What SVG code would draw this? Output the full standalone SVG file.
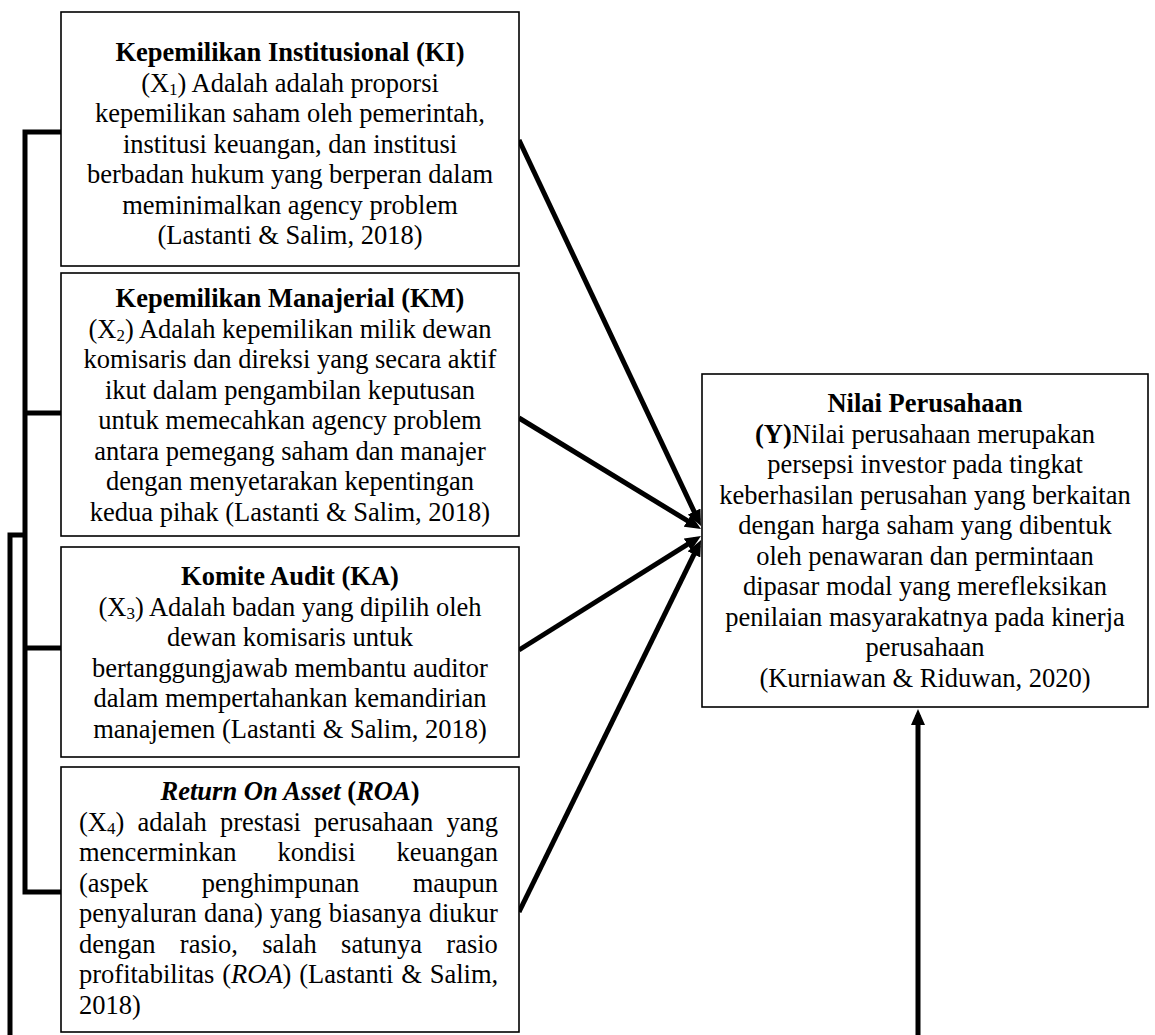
<svg xmlns="http://www.w3.org/2000/svg" width="1155" height="1035" viewBox="0 0 1155 1035">
<style>
.t{font-family:"Liberation Serif","Times New Roman",serif;font-size:26.5px;fill:#000}
.c{text-anchor:middle}
.b{font-weight:bold}
.s{font-size:17px}
.box{fill:#fff;stroke:#000;stroke-width:1.6}
.ln{fill:none;stroke:#000;stroke-width:5}
</style>
<defs>
<marker id="ah" markerUnits="userSpaceOnUse" markerWidth="16" markerHeight="14" refX="10" refY="7" orient="auto"><path d="M0,0 L16,7 L0,14 z" fill="#000"/></marker>
</defs>
<rect width="1155" height="1035" fill="#fff"/>
<g id="connectors">
<path class="ln" d="M61 132 H25 V892 H61 M25 413 H61 M25 648 H61"/>
<path class="ln" d="M27 535 H10 V1035"/>
<line class="ln" x1="519" y1="140" x2="698.4" y2="520.6" marker-end="url(#ah)"/>
<line class="ln" x1="519" y1="418" x2="695.9" y2="525.9" marker-end="url(#ah)"/>
<line class="ln" x1="519" y1="650" x2="695.9" y2="539.2" marker-end="url(#ah)"/>
<line class="ln" x1="519" y1="912" x2="698.4" y2="545.4" marker-end="url(#ah)"/>
<line class="ln" x1="918" y1="1035" x2="918" y2="715" marker-end="url(#ah)"/>
</g>
<g id="ki">
<rect class="box" x="61" y="12" width="458" height="254"/>
<text class="t c b" x="290" y="61">Kepemilikan Institusional (KI)</text>
<text class="t c" x="290" y="91.5">(X<tspan class="s" dy="3">1</tspan><tspan dy="-3">) Adalah adalah proporsi</tspan></text>
<text class="t c" x="290" y="122">kepemilikan saham oleh pemerintah,</text>
<text class="t c" x="290" y="152.5">institusi keuangan, dan institusi</text>
<text class="t c" x="290" y="183">berbadan hukum yang berperan dalam</text>
<text class="t c" x="290" y="213.5">meminimalkan agency problem</text>
<text class="t c" x="290" y="244">(Lastanti &amp; Salim, 2018)</text>
</g>
<g id="km">
<rect class="box" x="61" y="273" width="458" height="263"/>
<text class="t c b" x="290" y="307">Kepemilikan Manajerial (KM)</text>
<text class="t c" x="290" y="337.5">(X<tspan class="s" dy="3">2</tspan><tspan dy="-3">) Adalah kepemilikan milik dewan</tspan></text>
<text class="t c" x="290" y="368">komisaris dan direksi yang secara aktif</text>
<text class="t c" x="290" y="398.5">ikut dalam pengambilan keputusan</text>
<text class="t c" x="290" y="429">untuk memecahkan agency problem</text>
<text class="t c" x="290" y="459.5">antara pemegang saham dan manajer</text>
<text class="t c" x="290" y="490">dengan menyetarakan kepentingan</text>
<text class="t c" x="290" y="520.5">kedua pihak (Lastanti &amp; Salim, 2018)</text>
</g>
<g id="ka">
<rect class="box" x="61" y="547" width="458" height="210"/>
<text class="t c b" x="290" y="585">Komite Audit (KA)</text>
<text class="t c" x="290" y="615.5">(X<tspan class="s" dy="3">3</tspan><tspan dy="-3">) Adalah badan yang dipilih oleh</tspan></text>
<text class="t c" x="290" y="646">dewan komisaris untuk</text>
<text class="t c" x="290" y="676.5">bertanggungjawab membantu auditor</text>
<text class="t c" x="290" y="707">dalam mempertahankan kemandirian</text>
<text class="t c" x="290" y="737.5">manajemen (Lastanti &amp; Salim, 2018)</text>
</g>
<g id="roa">
<rect class="box" x="61" y="767" width="458" height="265"/>
<text class="t c b" x="290" y="800"><tspan font-style="italic">Return On Asset</tspan> (<tspan font-style="italic">ROA</tspan>)</text>
<text class="t" x="79" y="830.5" word-spacing="6.6">(X<tspan class="s" dy="3">4</tspan><tspan dy="-3">) adalah prestasi perusahaan yang</tspan></text>
<text class="t" x="79" y="861" word-spacing="34.4">mencerminkan kondisi keuangan</text>
<text class="t" x="79" y="891.5" word-spacing="46.9">(aspek penghimpunan maupun</text>
<text class="t" x="79" y="922" word-spacing="0.6">penyaluran dana) yang biasanya diukur</text>
<text class="t" x="79" y="952.5" word-spacing="17.7">dengan rasio, salah satunya rasio</text>
<text class="t" x="79" y="983" word-spacing="1.2">profitabilitas (<tspan font-style="italic">ROA</tspan>) (Lastanti &amp; Salim,</text>
<text class="t" x="79" y="1013.5">2018)</text>
</g>
<g id="y">
<rect class="box" x="702" y="374" width="446" height="333"/>
<text class="t c b" x="925" y="412">Nilai Perusahaan</text>
<text class="t c" x="925" y="442.5"><tspan font-weight="bold">(Y)</tspan>Nilai perusahaan merupakan</text>
<text class="t c" x="925" y="473">persepsi investor pada tingkat</text>
<text class="t c" x="925" y="503.5">keberhasilan perusahan yang berkaitan</text>
<text class="t c" x="925" y="534">dengan harga saham yang dibentuk</text>
<text class="t c" x="925" y="564.5">oleh penawaran dan permintaan</text>
<text class="t c" x="925" y="595">dipasar modal yang merefleksikan</text>
<text class="t c" x="925" y="625.5">penilaian masyarakatnya pada kinerja</text>
<text class="t c" x="925" y="656">perusahaan</text>
<text class="t c" x="925" y="686.5">(Kurniawan &amp; Riduwan, 2020)</text>
</g>
</svg>
